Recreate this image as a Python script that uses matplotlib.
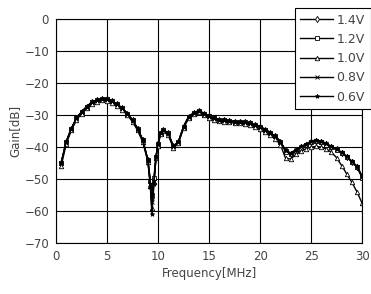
import matplotlib
matplotlib.use("Agg")
import matplotlib.pyplot as plt

# frequency points [MHz]
freq = [0.5, 1, 1.5, 2, 2.5, 3, 3.5, 4, 4.5, 5, 5.5, 6, 6.5, 7, 7.5, 8, 8.5, 9,
        9.25, 9.4, 9.6, 9.8, 10, 10.25, 10.5, 11, 11.5, 12, 12.5, 13, 13.5, 14,
        14.5, 15, 15.5, 16, 16.5, 17, 17.5, 18, 18.5, 19, 19.5, 20, 20.5, 21,
        21.5, 22, 22.5, 23, 23.5, 24, 24.5, 25, 25.5, 26, 26.5, 27, 27.5, 28,
        28.5, 29, 29.5, 30]

# gain [dB] per supply voltage
gain_14 = [-45.0, -38.3, -34.2, -31.0, -29.0, -27.4, -26.0, -25.3, -24.9, -25.0,
           -25.6, -26.6, -27.9, -29.5, -31.6, -34.2, -37.8, -44.0, -51.0, -56.0,
           -50.0, -43.0, -38.9, -35.5, -34.5, -35.7, -39.8, -38.3, -33.6, -30.5,
           -29.3, -28.6, -29.5, -30.3, -31.0, -31.4, -31.6, -31.8, -32.0, -32.1,
           -32.3, -32.6, -33.1, -33.6, -34.5, -35.5, -36.6, -38.3, -41.0, -42.0,
           -41.0, -40.0, -39.2, -38.3, -38.0, -38.3, -39.0, -40.0, -40.7, -41.8,
           -43.0, -44.6, -46.1, -49.3]
gain_12 = [-45.0, -38.3, -34.2, -31.0, -29.0, -27.4, -26.0, -25.3, -24.9, -25.0,
           -25.6, -26.6, -27.9, -29.5, -31.6, -34.2, -37.8, -44.0, -50.5, -55.0,
           -49.5, -43.0, -38.9, -35.5, -34.5, -35.7, -39.8, -38.3, -33.6, -30.5,
           -29.3, -28.6, -29.5, -30.3, -31.0, -31.4, -31.6, -31.8, -32.0, -32.1,
           -32.3, -32.6, -33.1, -33.6, -34.5, -35.5, -36.6, -38.3, -41.5, -42.3,
           -41.2, -40.2, -39.3, -38.5, -38.2, -38.5, -39.2, -40.1, -40.8, -41.9,
           -43.1, -44.7, -46.3, -49.5]
gain_10 = [-46.0, -39.0, -34.8, -31.6, -29.5, -27.9, -26.5, -25.8, -25.4, -25.5,
           -26.1, -27.1, -28.4, -30.0, -32.1, -34.8, -38.4, -44.5, -52.0, -59.0,
           -51.0, -43.5, -39.5, -36.0, -35.0, -36.2, -40.3, -38.8, -34.1, -31.0,
           -29.8, -29.1, -30.0, -30.8, -31.5, -31.9, -32.1, -32.3, -32.5, -32.6,
           -32.8, -33.1, -33.6, -34.4, -35.3, -36.3, -37.4, -39.3, -43.5, -43.7,
           -42.3, -41.2, -40.5, -40.0, -39.8, -40.0, -40.6, -41.6, -43.3, -45.8,
           -48.4, -51.0, -54.0, -57.5]
gain_08 = [-45.0, -38.3, -34.2, -31.0, -29.0, -27.4, -26.0, -25.3, -24.9, -25.0,
           -25.6, -26.6, -27.9, -29.5, -31.6, -34.2, -37.8, -44.0, -51.5, -57.0,
           -50.5, -43.0, -38.9, -35.5, -34.5, -35.7, -39.8, -38.3, -33.6, -30.5,
           -29.3, -28.6, -29.5, -30.3, -31.0, -31.4, -31.6, -31.8, -32.0, -32.1,
           -32.3, -32.6, -33.1, -33.6, -34.5, -35.5, -36.6, -38.3, -41.2, -42.1,
           -41.0, -40.0, -39.2, -38.3, -38.0, -38.3, -39.0, -40.0, -40.7, -41.8,
           -43.0, -44.6, -46.1, -49.3]
gain_06 = [-45.0, -38.3, -34.2, -31.0, -29.0, -27.4, -26.0, -25.3, -24.9, -25.0,
           -25.6, -26.6, -27.9, -29.5, -31.6, -34.2, -37.8, -44.0, -52.5, -61.0,
           -51.5, -43.0, -38.9, -35.5, -34.5, -35.7, -39.8, -38.3, -33.6, -30.5,
           -29.3, -28.6, -29.5, -30.3, -31.0, -31.4, -31.6, -31.8, -32.0, -32.1,
           -32.3, -32.6, -33.1, -33.6, -34.5, -35.5, -36.6, -38.3, -41.0, -41.8,
           -40.8, -39.8, -39.0, -38.1, -37.8, -38.1, -38.8, -39.8, -40.5, -41.6,
           -42.8, -44.4, -45.9, -49.0]

labels = ["1.4V", "1.2V", "1.0V", "0.8V", "0.6V"]
series = [gain_14, gain_12, gain_10, gain_08, gain_06]
markers = ["d", "s", "^", "x", "*"]

plt.rcParams["font.family"] = ["DejaVu Sans"]
fig = plt.figure(figsize=(3.71, 2.94), dpi=100)
ax = fig.add_axes([0.151, 0.173, 0.825, 0.762])

for g, lab, m in zip(series, labels, markers):
    ax.plot(freq, g, color="black", lw=1.0, marker=m, markersize=3.2,
            markerfacecolor="white" if m in "ds^" else "black",
            markeredgecolor="black", markeredgewidth=0.6, label=lab)

ax.set_xlim(0, 30)
ax.set_ylim(-70, 0)
ax.set_xticks(range(0, 31, 5))
ax.set_yticks(range(-70, 1, 10))
ax.grid(True, color="black", lw=0.8)
ax.tick_params(length=0, labelsize=8.5, labelcolor="#444444", pad=5)
for s in ax.spines.values():
    s.set_color("black")
    s.set_linewidth(0.8)
ax.set_xlabel("Frequency[MHz]", fontsize=8.5, color="#444444", labelpad=3)
ax.set_ylabel("Gain[dB]", fontsize=8.5, color="#444444", labelpad=2)

leg = fig.legend(loc="upper right", bbox_to_anchor=(0.999, 0.973), fontsize=9,
                 handlelength=2.6, handletextpad=0.3, borderpad=0.45,
                 borderaxespad=0, labelspacing=0.5, fancybox=False,
                 framealpha=1, edgecolor="black")
for t in leg.get_texts():
    t.set_color("#444444")
leg.get_frame().set_linewidth(0.8)

fig.savefig("out.png", dpi=100)
